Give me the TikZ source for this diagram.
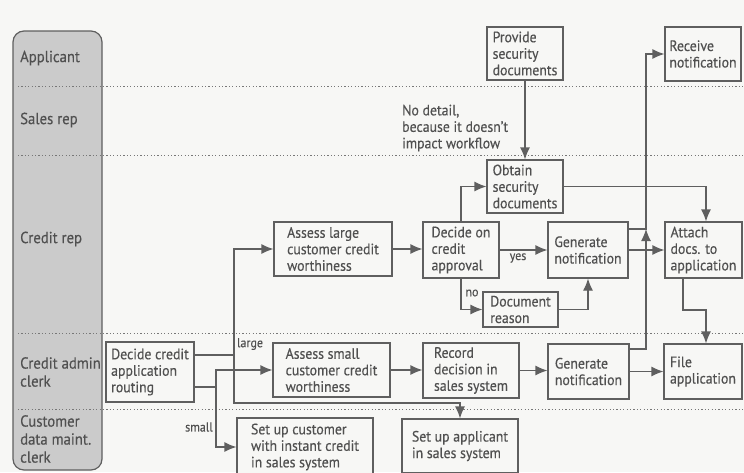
\documentclass[tikz,border=0pt]{standalone}
\usepackage{fontspec}
\setmainfont{PT Sans}[FakeStretch=0.92, FakeBold=0.35]
\usetikzlibrary{arrows.meta}
\definecolor{ink}{HTML}{505050}
\definecolor{edge}{HTML}{5F5F5F}
\definecolor{paper}{HTML}{F7F7F5}
\definecolor{panel}{HTML}{CBCBCB}

\begin{document}
\begin{tikzpicture}[x=1pt,y=-1pt,
  font=\fontsize{15}{16.5}\selectfont,
  box/.style={draw=edge, fill=paper, line width=1.2pt, text=ink, align=left, inner sep=0pt},
  arr/.style={draw=edge, line width=1.2pt, -{Latex[length=12pt,width=10pt]}},
  link/.style={draw=edge, line width=1.2pt},
  lane/.style={draw=edge!85, line width=1pt, dash pattern=on 1.2pt off 2.2pt},
  lbl/.style={text=ink, anchor=west, align=left, inner sep=0pt,
    font=\fontsize{16}{18}\selectfont},
  tag/.style={text=ink, inner sep=0pt, font=\fontsize{13}{14}\selectfont},
]
% page and clipping frame
\fill[paper] (0,0) rectangle (744,472);
\clip (0,0) rectangle (744,472);

% role panel on the left
\draw[draw=edge, fill=panel, line width=1.2pt, rounded corners=11pt] (13,31) rectangle (102,470);
\node[lbl] (lApp)   at (20,58)  {Applicant};
\node[lbl] (lSales) at (20,120) {Sales rep};
\node[lbl] (lCR)    at (20,239) {Credit rep};
\node[lbl] (lCAC)   at (20,372) {Credit admin\\clerk};
\node[lbl] (lCust)  at (20,439) {Customer\\data maint.\\clerk};

% swimlane separators
\draw[lane] (18,86)  -- (744,86);
\draw[lane] (18,155) -- (744,155);
\draw[lane] (18,333) -- (744,333);
\draw[lane] (18,409) -- (744,409);

% activities
\node[box, minimum width=76pt,  minimum height=53pt] (provide)   at (525,53.5)  {Provide\\security\\documents};
\node[box, minimum width=76pt,  minimum height=54pt] (receive)   at (703,54)    {Receive\\notification};
\node[box, minimum width=76pt,  minimum height=53pt] (obtain)    at (525,186.5) {Obtain\\security\\documents};
\node[box, minimum width=118pt, minimum height=54pt] (assessL)   at (333,249)   {Assess large\\customer credit\\worthiness};
\node[box, minimum width=76pt,  minimum height=56pt] (decide)    at (461,250)   {Decide on\\credit\\approval};
\node[box, minimum width=80pt,  minimum height=56pt] (genCR)     at (588,250)   {Generate\\notification};
\node[box, minimum width=77pt,  minimum height=56pt] (attach)    at (703.5,250) {Attach\\docs. to\\application};
\node[box, minimum width=75pt,  minimum height=35pt] (docReason) at (520.5,309.5) {Document\\reason};
\node[box, minimum width=88pt,  minimum height=60pt] (routing)   at (150,372)   {Decide credit\\application\\routing};
\node[box, minimum width=117pt, minimum height=54pt] (assessS)   at (331.5,370) {Assess small\\customer credit\\worthiness};
\node[box, minimum width=96pt,  minimum height=55pt] (record)    at (471,370.5) {Record\\decision in\\sales system};
\node[box, minimum width=81pt,  minimum height=55pt] (genAdm)    at (588.5,371.5) {Generate\\notification};
\node[box, minimum width=78pt,  minimum height=55pt] (file)      at (703,371.5) {File\\application};
\node[box, minimum width=136pt, minimum height=58pt] (setupCust) at (305,447)   {Set up customer\\with instant credit\\in sales system};
\node[box, minimum width=116pt, minimum height=54pt] (setupApp)  at (460,446)   {Set up applicant\\in sales system};

\node[text=ink, anchor=west, align=left, inner sep=0pt] (note) at (402,128)
  {No detail,\\because it doesn't\\impact workflow};

% routing of the application
\coordinate (jL)  at (234,355);
\coordinate (jLb) at (234,403);
\coordinate (jS)  at (216,387);
\draw[link] (routing.east |- jL) -- (jL);
\draw[arr]  (jL) |- (assessL.west);
\draw[arr]  (jL) -- (jLb) -| (setupApp.north);
\draw[link] (routing.east |- jS) -- (jS);
\draw[arr]  (jS) |- (assessS.west);
\draw[arr]  (jS) |- (setupCust.west);
\node[tag] (tLarge) at (250,344) {large};
\node[tag] (tSmall) at (199,427) {small};

% credit rep lane
\draw[arr] (assessL.east) -- (assessL.east -| decide.west);
\draw[arr] (decide.north) |- (obtain.west);
\draw[arr] (decide.east) -- (genCR.west);
\node[tag] (tYes) at (518,258) {yes};
\draw[arr] (decide.south) |- (docReason.west);
\node[tag] (tNo) at (472,293) {no};
\draw[arr] (docReason.east) -| (genCR.south);
\draw[arr] (provide.south) -- (obtain.north);
\draw[arr] (obtain.east) -| ([xshift=2.5pt]attach.north);
\draw[arr] (genCR.east) -- (attach.west);

% notifications to the applicant
\coordinate (up)    at (646,229);
\coordinate (admUp) at (646,349);
\draw[arr] (genCR.east |- up) -- (up) |- (receive.west);
\draw[arr] (genAdm.east |- admUp) -- (admUp) -- (up);

% credit admin lane
\draw[arr] (assessS.east) -- (assessS.east -| record.west);
\draw[arr] (record.east) -- (record.east -| genAdm.west);
\draw[arr] (genAdm.east) -- (genAdm.east -| file.west);
\coordinate (bend) at (706,310);
\draw[arr] ([xshift=-20.5pt]attach.south) |- (bend) -- (bend |- file.north);
\end{tikzpicture}
\end{document}
